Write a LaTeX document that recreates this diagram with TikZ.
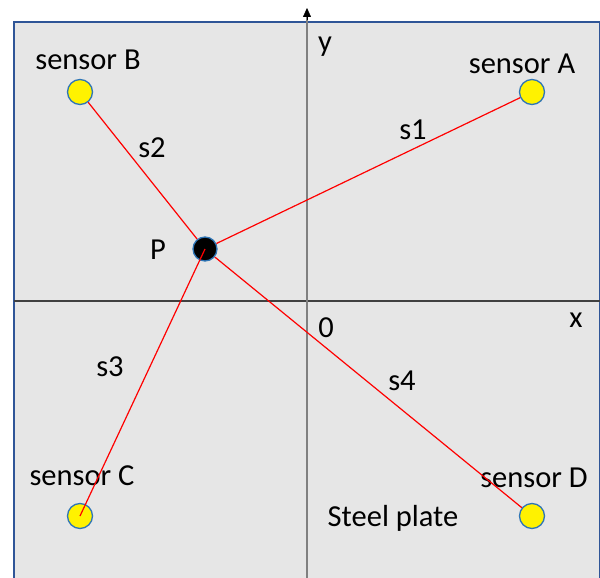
\documentclass[tikz,border=0pt]{standalone}
\usepackage{fontspec}
\setmainfont{Carlito}
\usetikzlibrary{positioning,arrows.meta}
\definecolor{plategray}{HTML}{E6E6E6}
\definecolor{plateblue}{HTML}{2F5597}
\definecolor{sensorblue}{HTML}{2E75B6}

\begin{document}
\begin{tikzpicture}[
          x=1pt, y=-1pt,
          sensor/.style={circle, draw=sensorblue, line width=1.3pt, fill=yellow, minimum size=25pt, inner sep=0pt},
          point/.style={circle, draw=sensorblue, line width=1.3pt, fill=black, minimum size=24pt, inner sep=0pt},
          lbl/.style={font=\fontsize{30.5}{33}\selectfont, inner sep=0pt},
          path/.style={red, line width=1.2pt},
          axis/.style={line width=1.2pt}
      ]
        \useasboundingbox (0,0) rectangle (600,578);
        \draw[plateblue, line width=1.5pt, fill=plategray] (14,22) rectangle (600,590);
        % axes
        \draw[axis, black!75] (14,301) -- (600,301);
        \draw[axis, black!50] (307,590) -- (307,14);
        \draw[black, -{Triangle[length=9pt, width=8pt]}] (307,20) -- (307,8);
        \node[lbl] (ylbl) at (325,47) {y};
        \node[lbl] (xlbl) at (576,320) {x};
        \node[lbl] (origin) at (326,328) {0};
        % sensors
        \node[sensor] (A) at (532,92) {};
        \node[sensor] (B) at (80,92) {};
        \node[sensor] (C) at (80,516) {};
        \node[sensor] (D) at (532,516) {};
        \node[point] (P) at (205,249) {};
        \node[lbl] (lblA) at (522,64) {sensor A};
        \node[lbl] (lblB) at (88,60) {sensor B};
        \node[lbl] (lblC) at (82,476) {sensor C};
        \node[lbl] (lblD) at (534,478) {sensor D};
        \node[lbl] (lblP) at (158,250) {P};
        \node[lbl] (plate) at (393,518) {Steel plate};
        % distances
        \draw[path] (P) -- (A);
        \draw[path] (P) -- (B);
        \draw[path] (P.center) -- (C.center);
        \draw[path] (P) -- (D);
        \node[lbl] (s1) at (413,130) {s1};
        \node[lbl] (s2) at (152,148) {s2};
        \node[lbl] (s3) at (110,367) {s3};
        \node[lbl] (s4) at (402,381) {s4};
      \end{tikzpicture}
\end{document}
